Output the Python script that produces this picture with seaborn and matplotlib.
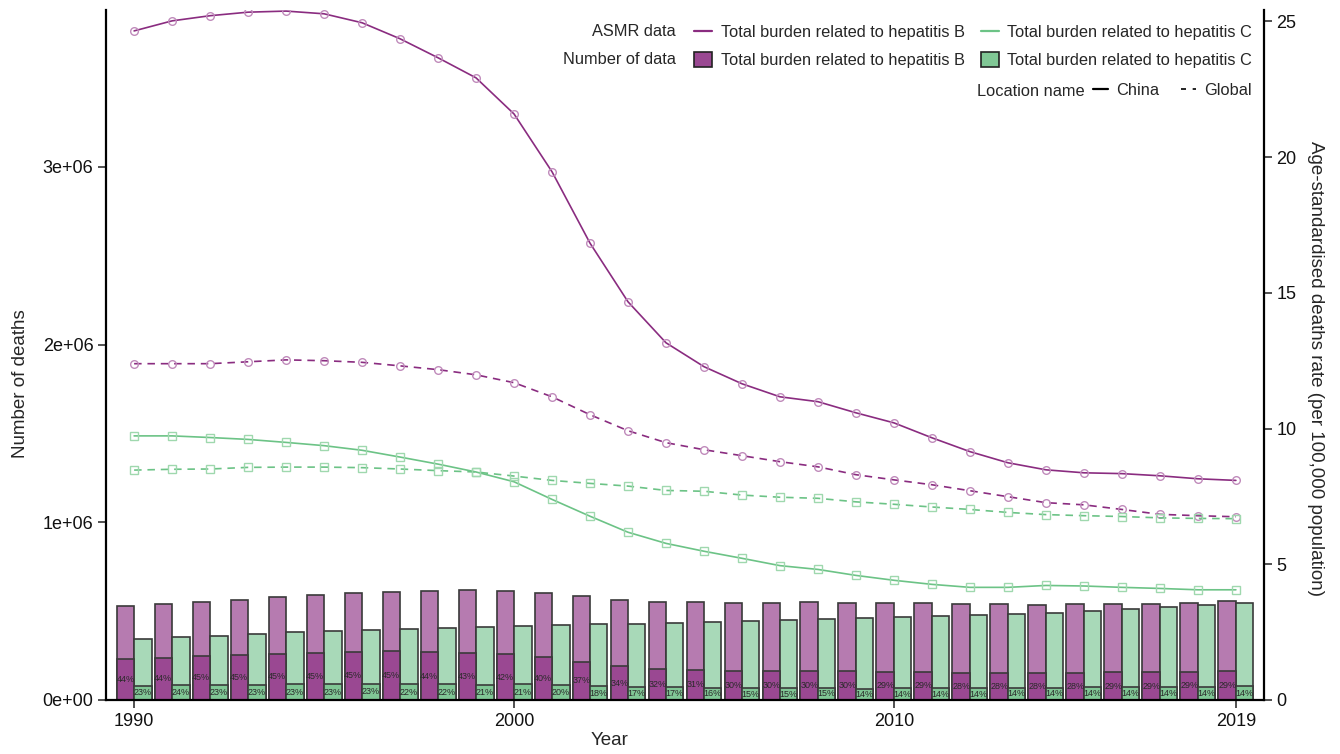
import matplotlib
matplotlib.use("Agg")
import matplotlib.pyplot as plt
from matplotlib.lines import Line2D
from matplotlib.patches import Patch
import numpy as np
import pandas as pd
import seaborn as sns

# ---- data -------------------------------------------------------------
years = list(range(1990, 2020))

# global number of deaths (bars, left axis)
deaths_hbv = [0.529e6, 0.539e6, 0.551e6, 0.564e6, 0.581e6, 0.593e6, 0.602e6, 0.608e6,
              0.613e6, 0.617e6, 0.615e6, 0.604e6, 0.584e6, 0.561e6, 0.550e6, 0.550e6,
              0.548e6, 0.548e6, 0.550e6, 0.544e6, 0.544e6, 0.544e6, 0.542e6, 0.539e6,
              0.536e6, 0.542e6, 0.542e6, 0.540e6, 0.548e6, 0.557e6]
deaths_hcv = [0.343e6, 0.353e6, 0.362e6, 0.371e6, 0.381e6, 0.388e6, 0.396e6, 0.401e6,
              0.407e6, 0.412e6, 0.418e6, 0.420e6, 0.426e6, 0.429e6, 0.432e6, 0.437e6,
              0.443e6, 0.449e6, 0.456e6, 0.461e6, 0.467e6, 0.471e6, 0.478e6, 0.484e6,
              0.491e6, 0.503e6, 0.512e6, 0.522e6, 0.533e6, 0.544e6]

# share of global deaths occurring in China (%)
china_pct_hbv = [44, 44, 45, 45, 45, 45, 45, 45, 44, 43, 42, 40, 37, 34, 32, 31, 30, 30,
                 30, 30, 29, 29, 28, 28, 28, 28, 29, 29, 29, 29]
china_pct_hcv = [23, 24, 23, 23, 23, 23, 23, 22, 22, 21, 21, 20, 18, 17, 17, 16, 15, 15,
                 15, 14, 14, 14, 14, 14, 14, 14, 14, 14, 14, 14]

# age-standardised mortality rate per 100,000 (lines, right axis)
asmr_hbv_china = [24.65, 25.02, 25.21, 25.34, 25.38, 25.28, 24.95, 24.36, 23.66, 22.92,
                  21.59, 19.46, 16.83, 14.67, 13.16, 12.28, 11.65, 11.17, 10.99, 10.58,
                  10.21, 9.66, 9.15, 8.74, 8.48, 8.37, 8.34, 8.26, 8.15, 8.09]
asmr_hbv_global = [12.39, 12.39, 12.39, 12.46, 12.53, 12.50, 12.44, 12.31, 12.17, 11.98,
                   11.69, 11.17, 10.51, 9.92, 9.48, 9.22, 9.00, 8.78, 8.59, 8.30,
                   8.11, 7.93, 7.71, 7.49, 7.27, 7.19, 7.02, 6.84, 6.79, 6.75]
asmr_hcv_china = [9.73, 9.73, 9.67, 9.60, 9.49, 9.37, 9.20, 8.95, 8.69, 8.40,
                  8.04, 7.39, 6.77, 6.18, 5.77, 5.48, 5.22, 4.95, 4.81, 4.59,
                  4.41, 4.26, 4.15, 4.15, 4.22, 4.20, 4.15, 4.11, 4.06, 4.06]
asmr_hcv_global = [8.47, 8.50, 8.51, 8.57, 8.58, 8.58, 8.56, 8.51, 8.45, 8.40,
                   8.25, 8.09, 7.98, 7.88, 7.72, 7.69, 7.55, 7.47, 7.43, 7.30,
                   7.21, 7.11, 7.02, 6.91, 6.83, 6.79, 6.76, 6.71, 6.69, 6.68]

causes = ["Total burden related to hepatitis B", "Total burden related to hepatitis C"]
x_ticks = [1990, 2000, 2010, 2019]
left_ticks = [0, 1e6, 2e6, 3e6]
left_tick_labels = ["0e+00", "1e+06", "2e+06", "3e+06"]
right_ticks = [0, 5, 10, 15, 20, 25]

# ---- styling -------------------------------------------------------------
sns.set_style("white")
plt.rcParams["font.family"] = ["Liberation Sans", "DejaVu Sans"]

PURPLE_LIGHT = "#b67bb0"
PURPLE_DARK = "#9a4892"
GREEN_LIGHT = "#a8d9b8"
GREEN_DARK = "#80c795"
PURPLE_LINE = "#8a2c80"
GREEN_LINE = "#6cc386"
PURPLE_MARK = "#c08bbb"
GREEN_MARK = "#9fd8ae"

# ---- long tables ---------------------------------------------------------
bars = pd.DataFrame({
    "year": years * 2,
    "cause": [causes[0]] * len(years) + [causes[1]] * len(years),
    "deaths": deaths_hbv + deaths_hcv,
})
china_deaths = ([d * p / 100 for d, p in zip(deaths_hbv, china_pct_hbv)] +
                [d * p / 100 for d, p in zip(deaths_hcv, china_pct_hcv)])
bars_china = bars.assign(deaths=china_deaths)

fig = plt.figure(figsize=(13.4, 7.54), dpi=100)
ax = fig.add_axes([106 / 1340, 1 - 700 / 754, (1264 - 106) / 1340, 690 / 754])

bar_kw = dict(x="year", y="deaths", hue="cause", hue_order=causes, native_scale=True,
              width=0.92, dodge=True, errorbar=None, legend=False, ax=ax,
              saturation=1, edgecolor="#3a3a3a", linewidth=1.2)
sns.barplot(data=bars, palette=[PURPLE_LIGHT, GREEN_LIGHT], **bar_kw)
sns.barplot(data=bars_china, palette=[PURPLE_DARK, GREEN_DARK], **bar_kw)

# percentage labels centred in the China segments
for cont, pcts in zip(ax.containers[-2:], [china_pct_hbv, china_pct_hcv]):
    ax.bar_label(cont, labels=[f"{p}%" for p in pcts], label_type="center",
                 fontsize=6.5, color="#2a2a2a")

ax.set_xlim(1989.26, 2019.74)
ax.set_ylim(0, 3.883e6)
ax.set_xticks(x_ticks)
ax.set_xticklabels([str(t) for t in x_ticks])
ax.set_yticks(left_ticks)
ax.set_yticklabels(left_tick_labels)
ax.set_xlabel("Year", fontsize=13.5)
ax.set_ylabel("Number of deaths", fontsize=13.5)
ax.xaxis.set_label_coords(0.435, -0.047)
ax.yaxis.set_label_coords(-0.0665, 0.458)

# ---- ASMR lines on the secondary axis -------------------------------------
ax2 = ax.twinx()
series = [
    (asmr_hbv_china, PURPLE_LINE, PURPLE_MARK, "o", "-"),
    (asmr_hbv_global, PURPLE_LINE, PURPLE_MARK, "o", (0, (4.5, 3.5))),
    (asmr_hcv_china, GREEN_LINE, GREEN_MARK, "s", "-"),
    (asmr_hcv_global, GREEN_LINE, GREEN_MARK, "s", (0, (4.5, 3.5))),
]
for vals, lc, mc, mk, ls in series:
    sns.lineplot(x=years, y=vals, ax=ax2, color=lc, linewidth=1.2, linestyle=ls,
                 marker=mk, markersize=5.5, markerfacecolor="none",
                 markeredgecolor=mc, markeredgewidth=1.0)
ax2.set_ylim(0, 25.42)
ax2.set_yticks(right_ticks)
ax2.set_ylabel("Age-standardised deaths rate (per 100,000 population)",
               fontsize=13.5, rotation=-90, va="bottom")
ax2.yaxis.set_label_coords(1.037, 0.48)

for a in (ax, ax2):
    a.tick_params(axis="both", which="major", length=6, width=1.2, color="#333333",
                  labelsize=13, labelcolor="#111111", pad=3)
    a.grid(False)
ax.tick_params(left=True, bottom=True)
ax2.tick_params(right=True)
for s in ("top", "right"):
    ax.spines[s].set_visible(False)
for s in ("top", "left", "bottom"):
    ax2.spines[s].set_visible(False)
for sp in (ax.spines["left"], ax.spines["bottom"], ax2.spines["right"]):
    sp.set_color("black")
    sp.set_linewidth(1.6)

# ---- legend --------------------------------------------------------------
leg_fs = 11.8
lg1 = fig.legend(
    handles=[Line2D([], [], color=PURPLE_LINE, lw=1.6),
             Patch(facecolor=PURPLE_DARK, edgecolor="#222222", linewidth=1.2),
             Line2D([], [], color=GREEN_LINE, lw=1.6),
             Patch(facecolor=GREEN_DARK, edgecolor="#222222", linewidth=1.2)],
    labels=[causes[0], causes[0], causes[1], causes[1]],
    ncol=2, loc="upper right", bbox_to_anchor=(1252 / 1340, 1 - 24 / 754),
    frameon=False, fontsize=leg_fs, handlelength=1.1, handleheight=1.05,
    handletextpad=0.5, columnspacing=1.0, labelspacing=0.72, borderpad=0,
    borderaxespad=0)
fig.text(676 / 1340, 1 - 32 / 754, "ASMR data", ha="right", va="center", fontsize=leg_fs)
fig.text(676 / 1340, 1 - 59 / 754, "Number of data", ha="right", va="center", fontsize=leg_fs)

lg2 = fig.legend(
    handles=[Line2D([], [], color="black", lw=1.6, ls="-"),
             Line2D([], [], color="black", lw=1.2, ls=(0, (3, 4)))],
    labels=["China", "Global"], ncol=2, loc="upper right",
    bbox_to_anchor=(1252 / 1340, 1 - 83 / 754), frameon=False, fontsize=leg_fs,
    handlelength=0.95, handletextpad=0.5, columnspacing=1.3, borderpad=0,
    borderaxespad=0)
fig.text(1085 / 1340, 1 - 92 / 754, "Location name", ha="right", va="center", fontsize=leg_fs)

fig.savefig("out.png", dpi=100)
